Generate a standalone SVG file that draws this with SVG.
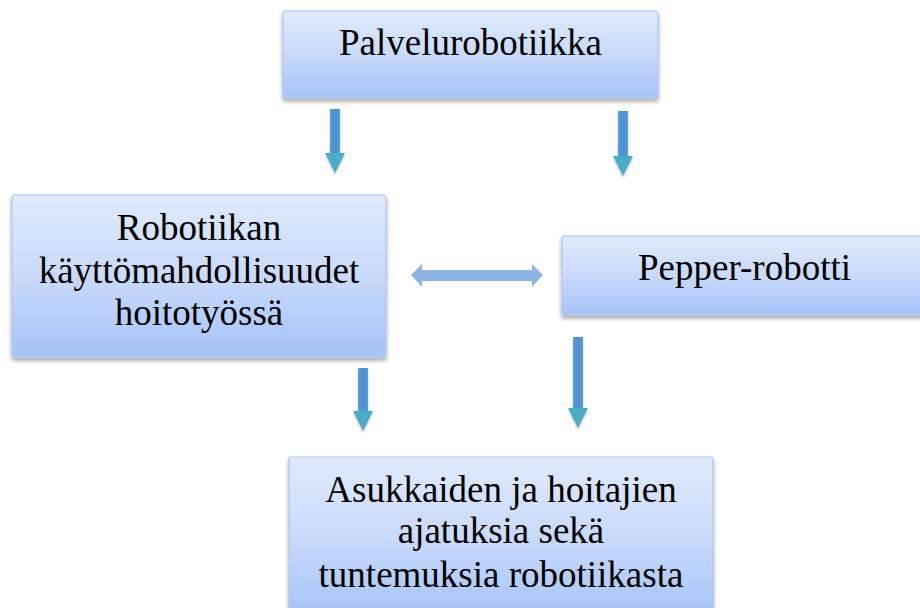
<svg xmlns="http://www.w3.org/2000/svg" width="920" height="608" viewBox="0 0 920 608">
<defs>
<linearGradient id="boxg" x1="0" y1="0" x2="0" y2="1">
<stop offset="0" stop-color="#DFEAFC"/>
<stop offset="0.5" stop-color="#C9DAFA"/>
<stop offset="1" stop-color="#A5C3F8"/>
</linearGradient>
<linearGradient id="arrg" x1="0" y1="0" x2="1" y2="0">
<stop offset="0" stop-color="#4BACC6"/>
<stop offset="0.3" stop-color="#5590D6"/>
<stop offset="0.7" stop-color="#5590D6"/>
<stop offset="1" stop-color="#4BACC6"/>
</linearGradient>
<filter id="sh" x="-5%" y="-10%" width="110%" height="125%">
<feGaussianBlur in="SourceAlpha" stdDeviation="2"/>
<feOffset dx="0" dy="2.5" result="b"/>
<feComponentTransfer><feFuncA type="linear" slope="0.35"/></feComponentTransfer>
<feMerge><feMergeNode/><feMergeNode in="SourceGraphic"/></feMerge>
</filter>
<filter id="ash" x="-30%" y="-10%" width="160%" height="125%">
<feGaussianBlur in="SourceAlpha" stdDeviation="1.2"/>
<feOffset dx="0" dy="1.5"/>
<feComponentTransfer><feFuncA type="linear" slope="0.25"/></feComponentTransfer>
<feMerge><feMergeNode/><feMergeNode in="SourceGraphic"/></feMerge>
</filter>
</defs>
<style>
.box{fill:url(#boxg);stroke:#ADC6EE;stroke-width:1.2;filter:url(#sh)}
text{font-family:"Liberation Serif","Tinos","Times New Roman","Noto Serif","DejaVu Serif",serif;font-size:37px;fill:#000;text-anchor:middle}
.shaft{fill:url(#arrg)}
.head{fill:#4BACC6}
.dbl{fill:#8EB4E3}
</style>
<rect width="920" height="608" fill="#FFFFFF"/>
<g id="connectors">
<g filter="url(#ash)"><rect class="shaft" x="330" y="109" width="10" height="45"/><polygon class="head" points="325,153 345,153 335,173"/></g>
<g filter="url(#ash)"><rect class="shaft" x="618" y="111" width="10" height="46"/><polygon class="head" points="613,156 633,156 623,176"/></g>
<g filter="url(#ash)"><rect class="shaft" x="358" y="368" width="10" height="44"/><polygon class="head" points="353,411 373,411 363,431"/></g>
<g filter="url(#ash)"><rect class="shaft" x="573" y="337" width="10" height="72"/><polygon class="head" points="568,408 588,408 578,428"/></g>
<polygon class="dbl" points="411,275 422,264 422,270 532,270 532,264 543,275 532,287 532,281 422,281 422,287"/>
</g>
<g id="n1">
<rect class="box" x="283" y="11" width="375" height="87" rx="2"/>
<text x="470.5" y="55" font-family="Liberation Serif">Palvelurobotiikka</text>
</g>
<g id="n2">
<rect class="box" x="12" y="195" width="374" height="162" rx="2"/>
<text x="199" y="240" font-family="Liberation Serif">Robotiikan</text>
<text x="199" y="283" font-family="Liberation Serif">käyttömahdollisuudet</text>
<text x="199" y="325" font-family="Liberation Serif">hoitotyössä</text>
</g>
<g id="n3">
<rect class="box" x="562" y="236" width="366" height="79" rx="2"/>
<text x="744.5" y="280" font-family="Liberation Serif">Pepper-robotti</text>
</g>
<g id="n4">
<rect class="box" x="289" y="457" width="424" height="160" rx="2"/>
<text x="501" y="502" font-family="Liberation Serif">Asukkaiden ja hoitajien</text>
<text x="501" y="543" font-family="Liberation Serif">ajatuksia sekä</text>
<text x="501" y="587" font-family="Liberation Serif">tuntemuksia robotiikasta</text>
</g>
</svg>
